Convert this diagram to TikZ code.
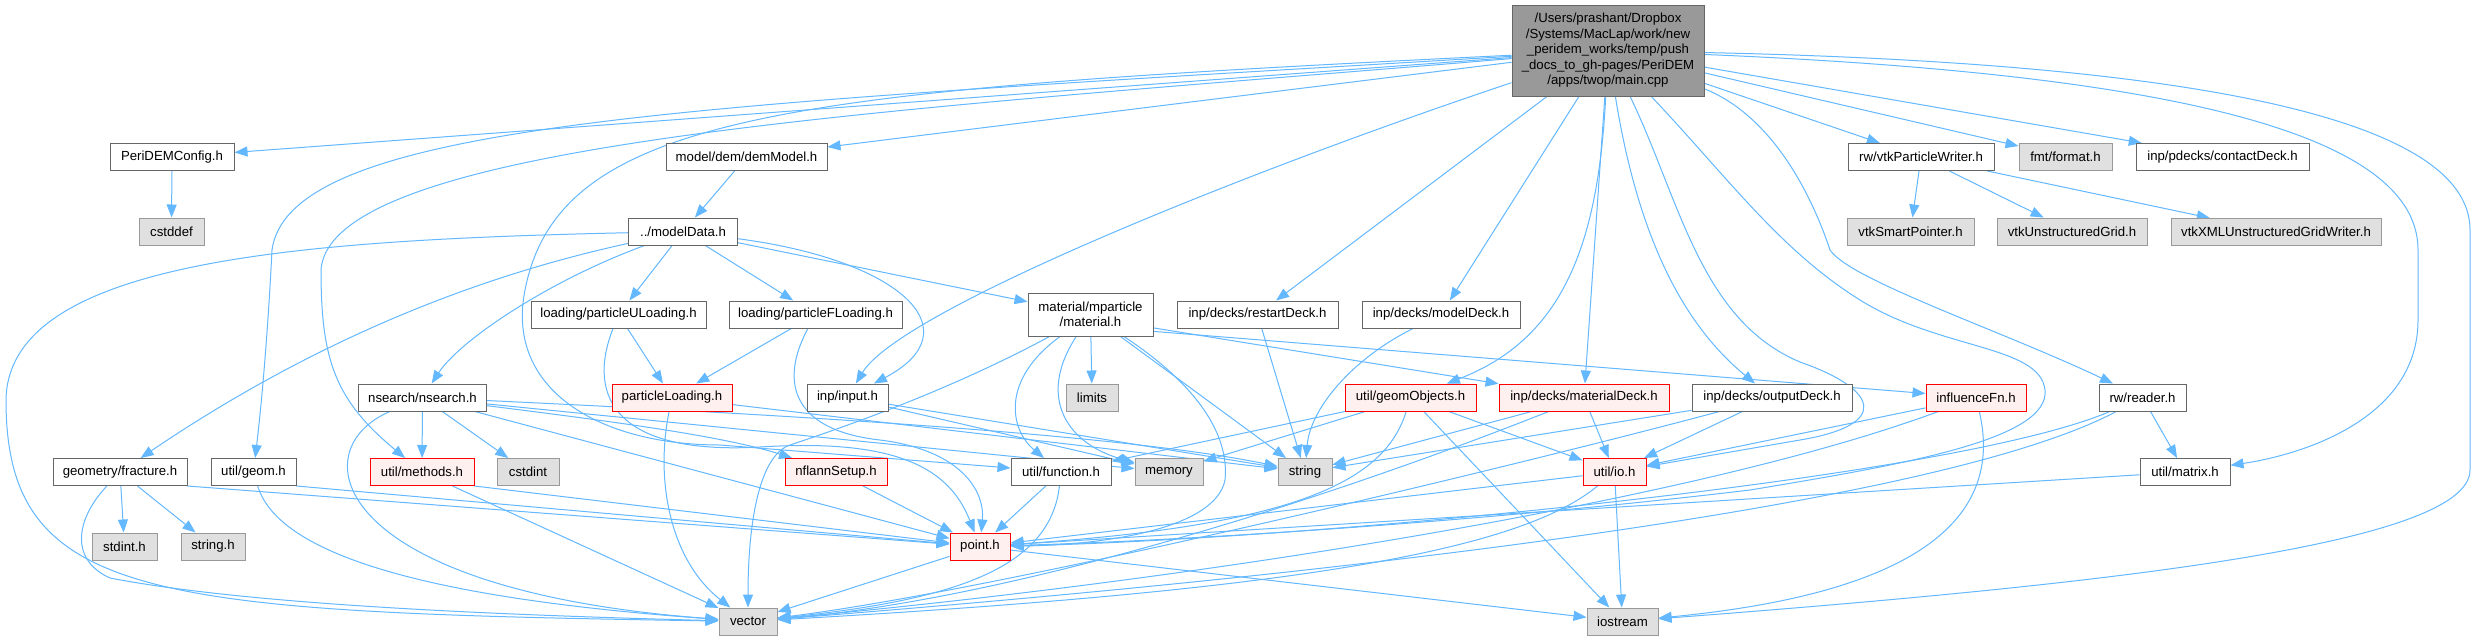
\documentclass[tikz,border=0pt]{standalone}
\usepackage{fontspec}
\setmainfont{Liberation Sans}
\usetikzlibrary{arrows.meta}
\pgfdeclarelayer{bg}
\pgfsetlayers{bg,main}
\definecolor{edgec}{HTML}{63B8FF}
\definecolor{bordn}{HTML}{666666}
\definecolor{bordg}{HTML}{999999}
\definecolor{fillg}{HTML}{E0E0E0}
\definecolor{fillr}{HTML}{FFF0F0}
\definecolor{fillm}{HTML}{999999}
\begin{document}
\begin{tikzpicture}[x=1pt,y=-1pt,
  nd/.style={draw=bordn, fill=white, line width=1pt, minimum height=27pt, inner sep=0pt,
             font=\fontsize{13.2pt}{15.5pt}\selectfont, anchor=center},
  sys/.style={nd, draw=bordg, fill=fillg},
  trunc/.style={nd, draw=red, fill=fillr},
  e/.style={draw=edgec, line width=1pt, -{Triangle[length=13pt,width=10pt]}}]
\useasboundingbox (0,0) rectangle (2475,640);

% nodes
\node[nd, fill=fillm, minimum width=192pt, minimum height=91pt, align=center] (mainf) at (1608,50.5)
  {/Users/prashant/Dropbox\\/Systems/MacLap/work/new\\\_peridem\_works/temp/push\\\_docs\_to\_gh-pages/PeriDEM\\/apps/twop/main.cpp};
\node[nd, minimum width=124pt] (cfg) at (172,157) {PeriDEMConfig.h};
\node[nd, minimum width=161pt] (dem) at (746.5,157) {model/dem/demModel.h};
\node[nd, minimum width=146pt] (vtkw) at (1921,157) {rw/vtkParticleWriter.h};
\node[sys, minimum width=93pt] (fmt) at (2065.5,157) {fmt/format.h};
\node[nd, minimum width=173pt] (contact) at (2222.5,157) {inp/pdecks/contactDeck.h};
\node[sys, minimum width=65pt] (cstddef) at (171.5,231.5) {cstddef};
\node[nd, minimum width=109pt] (mdata) at (683,231.5) {../modelData.h};
\node[sys, minimum width=127pt] (vsp) at (1910.5,231.5) {vtkSmartPointer.h};
\node[sys, minimum width=150pt] (vug) at (2072,231.5) {vtkUnstructuredGrid.h};
\node[sys, minimum width=210pt] (vxml) at (2276,232) {vtkXMLUnstructuredGridWriter.h};
\node[nd, minimum width=175pt] (ploadU) at (618.5,314.5) {loading/particleULoading.h};
\node[nd, minimum width=173pt] (ploadF) at (815.5,314.5) {loading/particleFLoading.h};
\node[nd, minimum width=125pt, minimum height=43pt, align=center] (material) at (1090.5,314.5) {material/mparticle\\/material.h};
\node[nd, minimum width=161pt] (restart) at (1257.5,314.5) {inp/decks/restartDeck.h};
\node[nd, minimum width=158pt] (modeldeck) at (1441,314.5) {inp/decks/modelDeck.h};
\node[nd, minimum width=128pt] (nsearch) at (422.5,397.5) {nsearch/nsearch.h};
\node[trunc, minimum width=120pt] (pload) at (672,397.5) {particleLoading.h};
\node[nd, minimum width=81pt] (input) at (847.5,397.5) {inp/input.h};
\node[sys, minimum width=52pt] (limits) at (1092,397.5) {limits};
\node[trunc, minimum width=131pt] (geomobj) at (1410.5,397.5) {util/geomObjects.h};
\node[trunc, minimum width=170pt] (matdeck) at (1584,397.5) {inp/decks/materialDeck.h};
\node[nd, minimum width=160pt] (outdeck) at (1772,397.5) {inp/decks/outputDeck.h};
\node[trunc, minimum width=100pt] (infl) at (1976,397.5) {influenceFn.h};
\node[nd, minimum width=87pt] (reader) at (2142.5,397.5) {rw/reader.h};
\node[nd, minimum width=134pt] (fracture) at (120,472) {geometry/fracture.h};
\node[nd, minimum width=85pt] (geom) at (253.5,472) {util/geom.h};
\node[trunc, minimum width=104pt] (methods) at (422,472) {util/methods.h};
\node[sys, minimum width=62pt] (cstdint) at (528,472) {cstdint};
\node[trunc, minimum width=102pt] (nflann) at (836,472) {nflannSetup.h};
\node[nd, minimum width=100pt] (function) at (1061,472) {util/function.h};
\node[sys, minimum width=68pt] (memory) at (1169,472) {memory};
\node[sys, minimum width=54pt] (string) at (1305,472) {string};
\node[trunc, minimum width=63pt] (io) at (1614.5,472) {util/io.h};
\node[nd, minimum width=90pt] (matrix) at (2185,472) {util/matrix.h};
\node[sys, minimum width=65pt] (stdint) at (124.5,546.5) {stdint.h};
\node[sys, minimum width=64pt] (stringh) at (213,546.5) {string.h};
\node[trunc, minimum width=60pt] (point) at (980,546.5) {point.h};
\node[sys, minimum width=58pt] (vector) at (748,621.5) {vector};
\node[sys, minimum width=71pt] (iostream) at (1622.5,621.5) {iostream};

\begin{pgfonlayer}{bg}
\fill[white] (0,0) rectangle (2475,640);
% from main
\draw[e] (mainf) -- (cfg);
\draw[e] (mainf) .. controls (700,105) and (290,120) .. (272,250) .. controls (268,330) and (262,400) .. (geom);
\draw[e] (mainf) .. controls (900,110) and (330,140) .. (321,270) .. controls (321,360) and (335,400) .. (methods);
\draw[e] (mainf) .. controls (800,90) and (560,110) .. (525,290) .. controls (505,390) and (600,445) .. (720,445) -- (function);
\draw[e] (mainf) -- (dem);
\draw[e] (mainf) .. controls (1250,170) and (900,310) .. (input);
\draw[e] (mainf) -- (restart);
\draw[e] (mainf) -- (modeldeck);
\draw[e] (mainf) .. controls (1598,250) and (1560,340) .. (geomobj);
\draw[e] (mainf) -- (matdeck);
\draw[e] (mainf) .. controls (1640,250) and (1690,330) .. (outdeck);
\draw[e] (mainf) .. controls (1680,200) and (1700,320) .. (1800,362) .. controls (1880,390) and (1890,425) .. (1800,440) -- (io);
\draw[e] (mainf) .. controls (1730,180) and (1780,250) .. (1860,300) .. controls (1940,350) and (2040,345) .. (2045,390) .. controls (2050,440) and (1900,465) .. (1750,490) .. controls (1500,520) and (1200,540) .. (point);
\draw[e] (mainf) .. controls (1770,115) and (1810,190) .. (1830,250) .. controls (1850,280) and (2000,330) .. (reader);
\draw[e] (mainf) -- (vtkw);
\draw[e] (mainf) -- (fmt);
\draw[e] (mainf) -- (contact);
\draw[e] (mainf) .. controls (2200,75) and (2418,140) .. (2418,250) -- (2418,320) .. controls (2418,420) and (2300,455) .. (matrix);
\draw[e] (mainf) .. controls (2150,62) and (2470,110) .. (2470,230) -- (2470,470) .. controls (2470,545) and (2100,585) .. (iostream);
% others
\draw[e] (cfg) -- (cstddef);
\draw[e] (dem) -- (mdata);
\draw[e] (mdata) .. controls (300,240) and (8,260) .. (6,400) .. controls (6,600) and (150,612) .. (vector);
\draw[e] (mdata) .. controls (460,280) and (300,350) .. (fracture);
\draw[e] (mdata) .. controls (550,280) and (460,340) .. (nsearch);
\draw[e] (mdata) -- (ploadU);
\draw[e] (mdata) -- (ploadF);
\draw[e] (mdata) .. controls (900,260) and (975,330) .. (input);
\draw[e] (mdata) -- (material);
\draw[e] (ploadU) -- (pload);
\draw[e] (ploadF) -- (pload);
\draw[e] (ploadU) .. controls (585,400) and (620,455) .. (760,447) .. controls (900,438) and (950,470) .. (point);
\draw[e] (ploadF) .. controls (780,380) and (790,430) .. (880,440) .. controls (960,450) and (985,490) .. (point);
\draw[e] (pload) .. controls (655,480) and (670,560) .. (vector);
\draw[e] (pload) -- (string);
\draw[e] (nsearch) .. controls (300,450) and (330,590) .. (vector);
\draw[e] (nsearch) -- (methods);
\draw[e] (nsearch) -- (cstdint);
\draw[e] (nsearch) .. controls (600,420) and (720,435) .. (nflann);
\draw[e] (nsearch) -- (point);
\draw[e] (nsearch) -- (memory);
\draw[e] (nsearch) .. controls (900,420) and (1150,440) .. (string);
\draw[e] (input) -- (memory);
\draw[e] (input) -- (string);
\draw[e] (material) .. controls (950,390) and (850,425) .. (790,445) .. controls (760,455) and (748,520) .. (vector);
\draw[e] (material) .. controls (1000,380) and (1010,430) .. (function);
\draw[e] (material) -- (limits);
\draw[e] (material) .. controls (1035,400) and (1070,445) .. (memory);
\draw[e] (material) .. controls (1190,380) and (1230,430) .. (1225,480) .. controls (1215,530) and (1100,545) .. (point);
\draw[e] (material) -- (string);
\draw[e] (material.-12) -- (matdeck);
\draw[e] (material.-15) -- (infl);
\draw[e] (restart) -- (string);
\draw[e] (modeldeck) .. controls (1350,360) and (1310,410) .. (string);
\draw[e] (geomobj) -- (function);
\draw[e] (geomobj) -- (memory);
\draw[e] (geomobj) .. controls (1385,480) and (1300,525) .. (point);
\draw[e] (geomobj) -- (io);
\draw[e] (geomobj) -- (iostream);
\draw[e] (matdeck) -- (string);
\draw[e] (matdeck) -- (io);
\draw[e] (matdeck) .. controls (1300,510) and (1000,600) .. (vector);
\draw[e] (outdeck) -- (string);
\draw[e] (outdeck) -- (io);
\draw[e] (outdeck) .. controls (1500,470) and (1000,590) .. (vector);
\draw[e] (io) .. controls (1520,550) and (1300,590) .. (vector);
\draw[e] (io) -- (iostream);
\draw[e] (io) -- (point);
\draw[e] (infl) -- (io);
\draw[e] (infl) .. controls (1700,500) and (1200,580) .. (vector);
\draw[e] (infl) .. controls (2000,500) and (1950,590) .. (iostream);
\draw[e] (reader) .. controls (1950,480) and (1300,540) .. (point);
\draw[e] (reader) .. controls (1950,500) and (1400,570) .. (vector);
\draw[e] (reader) -- (matrix);
\draw[e] (matrix) -- (point);
\draw[e] (vtkw) -- (vsp);
\draw[e] (vtkw) -- (vug);
\draw[e] (vtkw) -- (vxml);
\draw[e] (fracture) .. controls (75,520) and (70,560) .. (110,578) .. controls (250,605) and (500,615) .. (vector);
\draw[e] (fracture) -- (stdint);
\draw[e] (fracture) -- (stringh);
\draw[e] (fracture.south east) -- (point);
\draw[e] (geom.south east) -- (point);
\draw[e] (geom) .. controls (280,560) and (450,600) .. (vector);
\draw[e] (methods.south east) -- (point);
\draw[e] (methods) -- (vector);
\draw[e] (nflann) -- (point);
\draw[e] (function) -- (point);
\draw[e] (function) .. controls (1050,570) and (950,600) .. (vector);
\draw[e] (point) -- (vector);
\draw[e] (point) -- (iostream);
\end{pgfonlayer}
\end{tikzpicture}
\end{document}
